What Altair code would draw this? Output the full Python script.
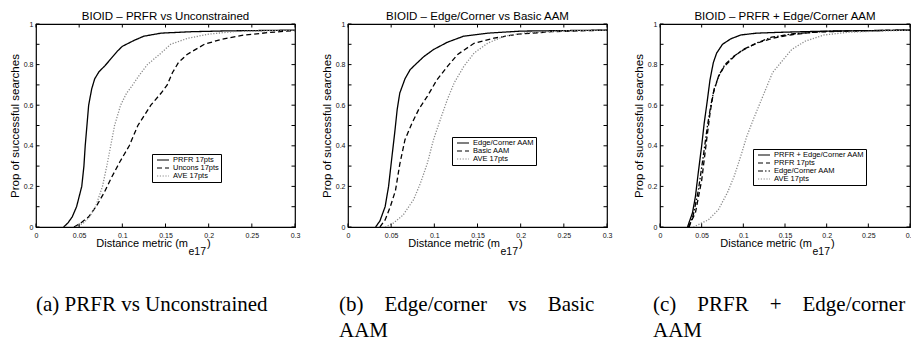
import altair as alt
import pandas as pd

FONT = "Liberation Sans, Arial, Helvetica, sans-serif"
SERIF = "Liberation Serif, Times New Roman, serif"
NB = "\u00a0" * 4

# ---------------- data ----------------
x_ticks = [0, 0.05, 0.1, 0.15, 0.2, 0.25, 0.3]
y_ticks = [0, 0.1, 0.2, 0.3, 0.4, 0.5, 0.6, 0.7, 0.8, 0.9, 1]

# Panel (a)
a_title = "BIOID \u2013 PRFR vs Unconstrained"
a_series = ["PRFR 17pts", "Uncons 17pts", "AVE 17pts"]
a_prfr_x = [0.032, 0.037, 0.042, 0.047, 0.050, 0.053, 0.0555, 0.057, 0.059, 0.061, 0.0645, 0.068, 0.073, 0.080, 0.086, 0.094, 0.100, 0.114, 0.125, 0.145, 0.180, 0.220, 0.300]
a_prfr_y = [0.0, 0.02, 0.05, 0.10, 0.15, 0.20, 0.30, 0.40, 0.50, 0.60, 0.68, 0.73, 0.765, 0.795, 0.825, 0.865, 0.89, 0.92, 0.94, 0.955, 0.962, 0.966, 0.970]
a_unc_x = [0.044, 0.052, 0.061, 0.071, 0.079, 0.087, 0.097, 0.108, 0.118, 0.133, 0.145, 0.152, 0.158, 0.165, 0.175, 0.195, 0.215, 0.240, 0.270, 0.300]
a_unc_y = [0.0, 0.02, 0.05, 0.11, 0.17, 0.24, 0.32, 0.40, 0.50, 0.60, 0.66, 0.70, 0.76, 0.81, 0.85, 0.90, 0.925, 0.945, 0.958, 0.968]
a_ave_x = [0.046, 0.055, 0.062, 0.069, 0.077, 0.082, 0.0865, 0.091, 0.098, 0.105, 0.112, 0.120, 0.129, 0.143, 0.156, 0.176, 0.200, 0.230, 0.300]
a_ave_y = [0.0, 0.02, 0.05, 0.10, 0.20, 0.30, 0.40, 0.50, 0.60, 0.66, 0.70, 0.75, 0.80, 0.85, 0.90, 0.93, 0.95, 0.963, 0.970]

# Panel (b)
b_title = "BIOID \u2013 Edge/Corner vs Basic AAM"
b_series = ["Edge/Corner AAM", "Basic AAM", "AVE 17pts"]
b_edge_x = [0.032, 0.037, 0.043, 0.047, 0.051, 0.054, 0.057, 0.060, 0.066, 0.072, 0.078, 0.088, 0.099, 0.115, 0.134, 0.162, 0.200, 0.300]
b_edge_y = [0.0, 0.03, 0.10, 0.20, 0.35, 0.46, 0.58, 0.66, 0.73, 0.775, 0.80, 0.84, 0.874, 0.91, 0.94, 0.955, 0.965, 0.970]
b_basic_x = [0.037, 0.043, 0.049, 0.055, 0.060, 0.066, 0.074, 0.082, 0.092, 0.103, 0.115, 0.127, 0.146, 0.169, 0.197, 0.236, 0.300]
b_basic_y = [0.0, 0.035, 0.10, 0.18, 0.31, 0.43, 0.51, 0.58, 0.645, 0.725, 0.79, 0.85, 0.905, 0.93, 0.95, 0.962, 0.970]
b_ave_x = [0.043, 0.053, 0.064, 0.076, 0.084, 0.092, 0.099, 0.107, 0.115, 0.123, 0.134, 0.146, 0.162, 0.181, 0.208, 0.250, 0.300]
b_ave_y = [0.0, 0.02, 0.06, 0.135, 0.217, 0.315, 0.43, 0.53, 0.627, 0.71, 0.79, 0.857, 0.906, 0.94, 0.958, 0.966, 0.970]

# Panel (c)
c_title = "BIOID \u2013 PRFR + Edge/Corner AAM"
c_series = ["PRFR + Edge/Corner AAM", "PRFR 17pts", "Edge/Corner AAM", "AVE 17pts"]
c_both_x = [0.033, 0.039, 0.0425, 0.046, 0.050, 0.053, 0.057, 0.060, 0.064, 0.068, 0.075, 0.085, 0.097, 0.116, 0.151, 0.200, 0.300]
c_both_y = [0.0, 0.07, 0.15, 0.27, 0.40, 0.51, 0.63, 0.725, 0.81, 0.857, 0.90, 0.927, 0.946, 0.955, 0.960, 0.965, 0.970]
c_prfr_x = [0.034, 0.0425, 0.050, 0.056, 0.060, 0.064, 0.070, 0.077, 0.089, 0.100, 0.116, 0.135, 0.158, 0.186, 0.230, 0.300]
c_prfr_y = [0.0, 0.07, 0.23, 0.43, 0.56, 0.66, 0.74, 0.79, 0.84, 0.875, 0.905, 0.93, 0.947, 0.960, 0.966, 0.970]
c_edge_x = [0.035, 0.040, 0.046, 0.052, 0.057, 0.061, 0.065, 0.071, 0.078, 0.088, 0.099, 0.115, 0.134, 0.160, 0.200, 0.300]
c_edge_y = [0.0, 0.06, 0.18, 0.35, 0.50, 0.60, 0.68, 0.75, 0.80, 0.84, 0.87, 0.905, 0.935, 0.952, 0.964, 0.970]
c_ave_x = [0.040, 0.058, 0.070, 0.081, 0.089, 0.097, 0.104, 0.112, 0.120, 0.128, 0.135, 0.147, 0.158, 0.174, 0.197, 0.228, 0.300]
c_ave_y = [0.0, 0.035, 0.085, 0.17, 0.25, 0.35, 0.445, 0.53, 0.61, 0.69, 0.76, 0.82, 0.874, 0.915, 0.946, 0.960, 0.970]

caption_a = ["(a) PRFR vs Unconstrained"]
caption_b = ["(b)" + NB + "Edge/corner" + NB + "vs" + NB + "Basic", "AAM"]
caption_c = ["(c)" + NB + "PRFR" + NB + "+" + NB + "Edge/corner", "AAM"]

y_title = "Prop of successful searches"
x_title_main = "Distance metric (m"
x_title_sub = "e17"
x_title_end = ")"

# ---------------- styling ----------------
H = 203
SOLID, DASH, DOT, DASHDOT = [1, 0], [5, 3], [1.2, 1.6], [5, 2, 1.5, 2]
BLACK, GRAY = "#000000", "#8a8a8a"


def panel(title, names, xs, ys, dashes, colors, lx, ly, caption, cap_x, W):
    rows = []
    for name, xv, yv in zip(names, xs, ys):
        for a, b in zip(xv, yv):
            rows.append({"series": name, "x": a, "y": b})
    df = pd.DataFrame(rows)

    leg = alt.Legend(
        title=None, orient="none", legendX=lx, legendY=ly,
        symbolType="M-2,0H2", symbolSize=36, symbolStrokeWidth=1.2,
        symbolOffset=5, labelOffset=6, padding=2, rowPadding=0,
        labelFontSize=7.5, labelFont=FONT, labelColor="black",
        strokeColor="black", fillColor="white",
    )
    xscale = alt.Scale(domain=[0, 0.3], nice=False, zero=False)
    yscale = alt.Scale(domain=[0, 1], nice=False)
    lines = alt.Chart(df).mark_line(strokeWidth=1.3, clip=True).encode(
        x=alt.X("x:Q", scale=xscale, axis=alt.Axis(
            values=x_ticks, format="~g", title=None, ticks=False, domain=False,
            grid=False, labelFontSize=7, labelFont=FONT, labelColor="#111",
            labelPadding=4, labelFlush=False)),
        y=alt.Y("y:Q", scale=yscale, axis=alt.Axis(
            values=y_ticks, format="~g", title=y_title, ticks=False, domain=False,
            grid=False, labelFontSize=7, labelFont=FONT, labelColor="#111",
            labelPadding=3, titleFontSize=11.5, titleFont=FONT,
            titleFontWeight="normal", titleColor="black", titlePadding=3,
            labelFlush=False)),
        color=alt.Color("series:N", scale=alt.Scale(domain=names, range=colors),
                        sort=names, legend=leg),
        strokeDash=alt.StrokeDash("series:N", scale=alt.Scale(domain=names, range=dashes),
                                  sort=names, legend=leg),
    )

    xt = pd.DataFrame({"x": x_ticks})
    yt = pd.DataFrame({"y": y_ticks})
    tick = dict(color="black", strokeWidth=1)
    tb = alt.Chart(xt).mark_rule(**tick).encode(x="x:Q", y=alt.value(H), y2=alt.value(H - 3.5))
    tt = alt.Chart(xt).mark_rule(**tick).encode(x="x:Q", y=alt.value(0), y2=alt.value(3.5))
    tl = alt.Chart(yt).mark_rule(**tick).encode(y="y:Q", x=alt.value(0), x2=alt.value(3.5))
    tr = alt.Chart(yt).mark_rule(**tick).encode(y="y:Q", x=alt.value(W), x2=alt.value(W - 3.5))

    xm = alt.Chart(pd.DataFrame({"t": [x_title_main]})).mark_text(
        align="right", baseline="alphabetic", font=FONT, fontSize=11, color="black"
    ).encode(text="t:N", x=alt.value(152), y=alt.value(H + 20))
    xs_ = alt.Chart(pd.DataFrame({"t": [x_title_sub]})).mark_text(
        align="left", baseline="alphabetic", font=FONT, fontSize=10.5, color="black"
    ).encode(text="t:N", x=alt.value(152.5), y=alt.value(H + 28))
    xe = alt.Chart(pd.DataFrame({"t": [x_title_end]})).mark_text(
        align="left", baseline="alphabetic", font=FONT, fontSize=11, color="black"
    ).encode(text="t:N", x=alt.value(171), y=alt.value(H + 20))

    caps = []
    for i, line in enumerate(caption):
        caps.append(alt.Chart(pd.DataFrame({"t": [line]})).mark_text(
            align="left", baseline="alphabetic", font=SERIF, fontSize=21, color="black"
        ).encode(text="t:N", x=alt.value(cap_x), y=alt.value(287 + 26 * i)))

    return alt.layer(lines, tb, tt, tl, tr, xm, xs_, xe, *caps).properties(
        width=W, height=H,
        title=alt.TitleParams(title, fontSize=11.5, fontWeight="normal", font=FONT,
                              color="black", offset=-2, anchor="middle", frame="group"),
    )


pa = panel(a_title, a_series, [a_prfr_x, a_unc_x, a_ave_x], [a_prfr_y, a_unc_y, a_ave_y],
           [SOLID, DASH, DOT], [BLACK, BLACK, GRAY], 116, 130, caption_a, 0, 259)
pb = panel(b_title, b_series, [b_edge_x, b_basic_x, b_ave_x], [b_edge_y, b_basic_y, b_ave_y],
           [SOLID, DASH, DOT], [BLACK, BLACK, GRAY], 104, 113, caption_b, -9, 259)
pc = panel(c_title, c_series, [c_both_x, c_prfr_x, c_edge_x, c_ave_x],
           [c_both_y, c_prfr_y, c_edge_y, c_ave_y],
           [SOLID, DASH, DASHDOT, DOT], [BLACK, BLACK, BLACK, GRAY], 93, 125, caption_c, -7, 250)

chart = alt.hconcat(pa, pb, pc, spacing=53, bounds="flush").resolve_scale(
    color="independent", strokeDash="independent", x="independent", y="independent"
).properties(
    autosize=alt.AutoSizeParams(type="none"),
    padding={"left": 28, "top": 16, "right": 875, "bottom": 317},
    background="white",
).configure_view(stroke="black", strokeWidth=1.2)

chart.save("out.html", embed_options={"renderer": "svg", "actions": False})
